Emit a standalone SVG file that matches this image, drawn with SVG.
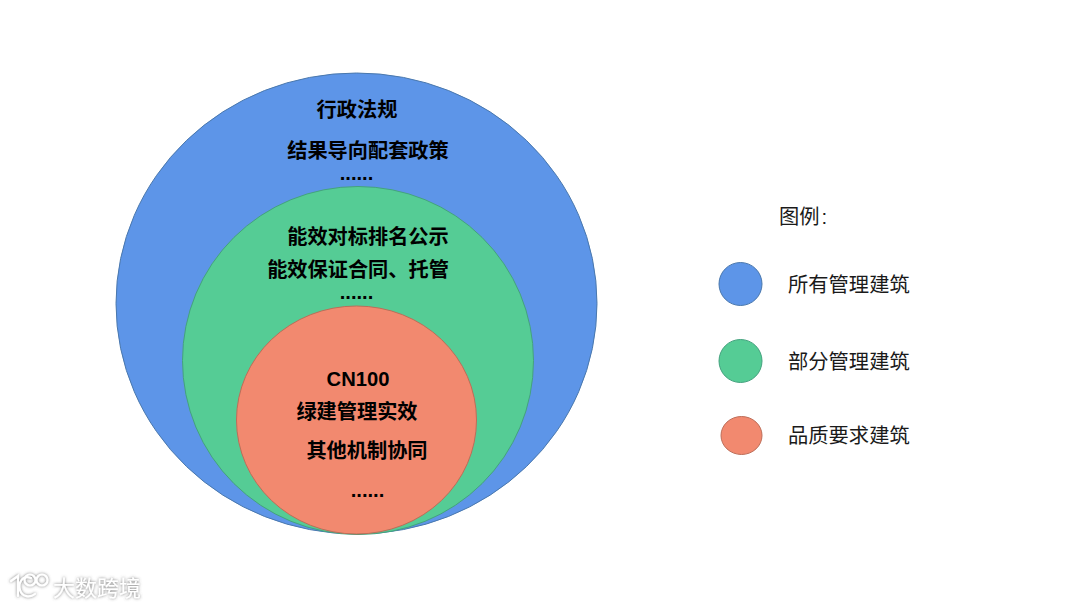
<svg xmlns="http://www.w3.org/2000/svg" width="1080" height="608" viewBox="0 0 1080 608">
<defs><filter id="sh" x="-20%" y="-40%" width="140%" height="180%"><feDropShadow dx="0" dy="0" stdDeviation="1.5" flood-color="#666" flood-opacity=".9"/></filter></defs>
<style>
.b{font-family:"Liberation Sans","Noto Sans CJK SC",sans-serif;font-size:20.2px;font-weight:700;fill:#000;text-anchor:middle}
.l{font-family:"Liberation Sans","Noto Sans CJK SC",sans-serif;font-size:20.3px;fill:#1a1a1a}
.blue{fill:#5d95e8;stroke:#4a78ad;stroke-width:1}
.green{fill:#55cc95;stroke:#44a27e;stroke-width:1}
.red{fill:#f2896f;stroke:#bd6d58;stroke-width:1}
.wm{fill:none;stroke:#fff;stroke-width:2.200;stroke-linecap:round}
</style>
<rect width="1080" height="608" fill="#fff"/>
<g id="outer"><ellipse class="blue" cx="356.500" cy="303.500" rx="240.500" ry="230.500"/><text class="b" x="357" y="117">行政法规</text><text class="b" x="368" y="158">结果导向配套政策</text><text class="b" x="356.500" y="180">......</text></g>
<g id="middle"><ellipse class="green" cx="358" cy="360.500" rx="175.500" ry="174"/><text class="b" x="368" y="244">能效对标排名公示</text><text class="b" x="358" y="277">能效保证合同、托管</text><text class="b" x="356.500" y="299">......</text></g>
<g id="inner"><ellipse class="red" cx="356.500" cy="420" rx="120" ry="114"/><text class="b" x="358" y="386">CN100</text><text class="b" x="357" y="419">绿建管理实效</text><text class="b" x="367" y="458">其他机制协同</text><text class="b" x="367.500" y="497">......</text></g>
<g id="legend"><text class="l" x="779" y="224">图例<tspan dx="2">:</tspan></text>
<circle class="blue" cx="740.500" cy="284" r="21.500"/><text class="l" x="788" y="292">所有管理建筑</text>
<circle class="green" cx="740.500" cy="361" r="21.500"/><text class="l" x="788" y="369">部分管理建筑</text>
<ellipse class="red" cx="741.500" cy="435.500" rx="20.500" ry="19"/><text class="l" x="788" y="443">品质要求建筑</text></g>
<g id="watermark" filter="url(#sh)"><path class="wm" d="M11 581 L18 576 L18 596 M31 578 C22 574 18 584 20 590 C22 597 30 598 35 594"/><circle class="wm" cx="30" cy="580" r="5.500"/><circle class="wm" cx="42" cy="580" r="5.500"/><text x="53" y="596" font-family="Noto Sans CJK SC,sans-serif" font-size="22" font-weight="400" fill="#fff">大数跨境</text></g>
<g id="connectors"/>
</svg>
